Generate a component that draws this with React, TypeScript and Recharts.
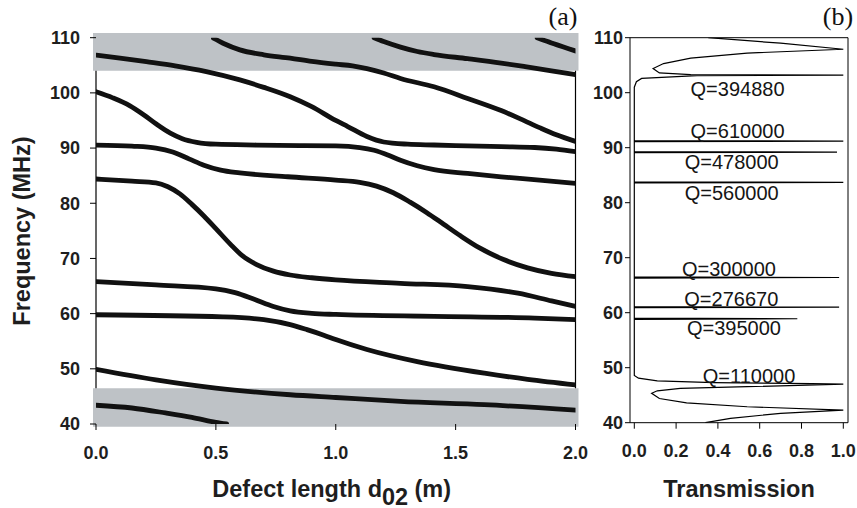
import React from 'react';
import { ScatterChart, Scatter, XAxis, YAxis, ReferenceArea, ReferenceLine } from 'recharts';

// ---------- Panel (a): eigen-frequency branches vs defect length ----------
const dTicks = [0, 0.5, 1.0, 1.5, 2.0];
const fTicks = [40, 50, 60, 70, 80, 90, 100, 110];

const branchA_d = [0, 0.1, 0.21, 0.33, 0.46, 0.6, 0.7, 0.81, 0.9, 1.0, 1.05, 1.13, 1.2, 1.3, 1.41, 1.55, 1.69, 1.83, 1.92, 2.0];
const branchA_f = [106.85, 106.3, 105.65, 104.9, 103.85, 102.35, 101.0, 99.3, 97.5, 95.0, 93.9, 92.1, 91.1, 90.7, 90.56, 90.4, 90.25, 90.1, 89.8, 89.35];

const branchB_d = [0.49, 0.53, 0.6, 0.7, 0.81, 0.9, 1.0, 1.07, 1.13, 1.2, 1.27, 1.41, 1.55, 1.69, 1.77, 1.85, 1.92, 2.0];
const branchB_f = [109.9, 109.0, 107.8, 106.9, 106.3, 105.7, 105.2, 104.9, 104.4, 103.6, 102.6, 101.1, 99.0, 96.8, 95.3, 93.7, 92.4, 91.2];

const branchC_d = [1.16, 1.2, 1.27, 1.34, 1.41, 1.55, 1.69, 1.79, 1.9, 2.0];
const branchC_f = [110.0, 109.3, 108.3, 107.5, 106.95, 106.2, 105.4, 104.75, 104.0, 103.3];

const branchD_d = [1.84, 1.91, 2.0];
const branchD_f = [110.0, 108.9, 107.6];

const branchE_d = [0, 0.07, 0.14, 0.2, 0.25, 0.31, 0.36, 0.42, 0.5, 0.67, 0.85, 1.0, 1.1, 1.16, 1.22, 1.27, 1.34, 1.41, 1.55, 1.69, 1.85, 2.0];
const branchE_f = [100.2, 99.1, 97.7, 96.0, 94.4, 92.7, 91.7, 91.05, 90.7, 90.55, 90.45, 90.4, 90.1, 89.6, 88.7, 87.8, 86.8, 86.1, 85.4, 84.8, 84.2, 83.6];

const branchF_d = [0, 0.15, 0.25, 0.32, 0.39, 0.45, 0.52, 0.6, 0.8, 1.0, 1.1, 1.17, 1.24, 1.31, 1.38, 1.45, 1.52, 1.6, 1.7, 1.8, 1.9, 2.0];
const branchF_f = [90.55, 90.35, 90.0, 89.3, 88.0, 86.9, 86.0, 85.5, 84.8, 84.2, 83.8, 83.1, 81.9, 80.2, 78.3, 76.2, 74.1, 71.9, 69.8, 68.3, 67.3, 66.7];

const branchG_d = [0, 0.15, 0.25, 0.3, 0.35, 0.4, 0.45, 0.5, 0.56, 0.61, 0.67, 0.74, 0.81, 0.9, 1.0, 1.27, 1.55, 1.76, 1.9, 2.0];
const branchG_f = [84.4, 84.0, 83.7, 83.0, 81.7, 79.8, 77.7, 75.4, 72.6, 70.5, 68.9, 67.7, 67.0, 66.5, 66.1, 65.5, 64.9, 63.7, 62.3, 61.3];

const branchH_d = [0, 0.25, 0.5, 0.58, 0.66, 0.74, 0.81, 0.9, 1.0, 1.41, 1.83, 2.0];
const branchH_f = [65.8, 65.2, 64.5, 63.8, 62.6, 61.3, 60.5, 60.05, 59.85, 59.5, 59.2, 58.9];

const branchI_d = [0, 0.53, 0.7, 0.81, 0.88, 0.95, 1.0, 1.13, 1.34, 1.62, 1.8, 2.0];
const branchI_f = [59.8, 59.4, 58.9, 58.0, 57.1, 56.1, 55.3, 53.5, 51.3, 49.2, 48.1, 47.1];

const branchJ_d = [0, 0.25, 0.5, 0.81, 1.0, 1.27, 1.62, 2.0];
const branchJ_f = [49.9, 48.0, 46.5, 45.3, 44.8, 44.1, 43.5, 42.5];

const branchK_d = [0, 0.15, 0.29, 0.4, 0.5, 0.545];
const branchK_f = [43.4, 42.9, 42.0, 41.2, 40.3, 40.0];

// band gaps (shaded)
const upperBand = [104, 110.85];
const lowerBand = [39.5, 46.5];

// ---------- Panel (b): transmission spectrum ----------
const tTicks = [0, 0.2, 0.4, 0.6, 0.8, 1.0];
const transT = [
  0.354, 0.7, 1.0, 0.54, 0.27, 0.14, 0.09, 0.12, 0.27, 1.0, 0.3, 0.035, 0.01, 0,
  0, 1.0, 0,
  0, 0.97, 0,
  0, 1.0, 0,
  0, 0.98, 0,
  0, 0.98, 0,
  0, 0.78, 0,
  0, 0.02, 0.11, 0.38, 0.85, 1.0, 0.54, 0.22, 0.11, 0.083, 0.12, 0.25, 0.54, 1.0, 0.7, 0.46, 0.34,
];
const transF = [
  110.0, 109.0, 107.9, 107.2, 106.3, 105.3, 104.4, 103.6, 103.3, 103.2, 103.1, 102.6, 102.0, 101.0,
  91.3, 91.2, 91.1,
  89.3, 89.2, 89.1,
  83.8, 83.7, 83.6,
  66.5, 66.4, 66.3,
  61.1, 61.0, 60.9,
  59.0, 58.9, 58.8,
  48.6, 48.1, 47.6, 47.3, 47.1, 47.0, 46.55, 46.25, 45.8, 45.35, 44.4, 43.6, 42.9, 42.3, 41.7, 40.8, 40.0,
];

const qText = ['Q=394880', 'Q=610000', 'Q=478000', 'Q=560000', 'Q=300000', 'Q=276670', 'Q=395000', 'Q=110000'];
const qT = [0.494, 0.494, 0.466, 0.466, 0.453, 0.464, 0.477, 0.549];
const qF = [100.8, 93.07, 87.45, 81.85, 67.98, 62.45, 57.3, 48.53];

// ---------- helpers ----------
const FONT = '"Liberation Sans", Arial, Helvetica, sans-serif';
const zip = (ds: number[], fs: number[]) => ds.map((d, i) => ({ d, f: fs[i] }));

const branches = [
  zip(branchA_d, branchA_f),
  zip(branchB_d, branchB_f),
  zip(branchC_d, branchC_f),
  zip(branchD_d, branchD_f),
  zip(branchE_d, branchE_f),
  zip(branchF_d, branchF_f),
  zip(branchG_d, branchG_f),
  zip(branchH_d, branchH_f),
  zip(branchI_d, branchI_f),
  zip(branchJ_d, branchJ_f),
  zip(branchK_d, branchK_f),
];

const transData = transT.map((t, i) => ({ t, f: transF[i] }));
const qData = qText.map((label, i) => ({ t: qT[i], f: qF[i], label }));

const tickStyle = { fontSize: 18, fontWeight: 700, fill: '#1e1e1e', fontFamily: FONT };
const noShape = () => <g />;

const QShape = (props: any) => (
  <text
    x={props.cx}
    y={props.cy}
    dy="0.36em"
    textAnchor="middle"
    fontFamily={FONT}
    fontSize={20}
    fill="#151515"
  >
    {props.payload.label}
  </text>
);

const titleProps = {
  fontFamily: FONT,
  fontWeight: 700,
  fontSize: 23.5,
  fill: '#1e1e1e',
};

export default function App() {
  return (
    <div style={{ position: 'absolute', left: 0, top: 0, width: 857, height: 508, background: '#fff' }}>
      <div style={{ position: 'absolute', left: 0, top: 0 }}>
        <ScatterChart width={600} height={508} margin={{ top: 37.7, right: 24.5, bottom: 54, left: 0 }}>
          <ReferenceArea
            x1={-0.0125}
            x2={2.0125}
            y1={upperBand[0]}
            y2={upperBand[1]}
            fill="#bec2c6"
            fillOpacity={1}
            stroke="none"
            ifOverflow="visible"
          />
          <ReferenceArea
            x1={-0.0125}
            x2={2.0125}
            y1={lowerBand[0]}
            y2={lowerBand[1]}
            fill="#bec2c6"
            fillOpacity={1}
            stroke="none"
            ifOverflow="visible"
          />
          <XAxis
            type="number"
            dataKey="d"
            domain={[0, 2]}
            ticks={dTicks}
            tickFormatter={(v: number) => v.toFixed(1)}
            axisLine={false}
            tickLine={{ stroke: '#000' }}
            tickSize={6}
            tickMargin={16}
            height={30}
            tick={tickStyle}
            allowDataOverflow
          />
          <YAxis
            type="number"
            dataKey="f"
            domain={[40, 110]}
            ticks={fTicks}
            axisLine={false}
            tickLine={{ stroke: '#000' }}
            tickSize={6}
            tickMargin={10}
            width={96}
            tick={tickStyle}
            allowDataOverflow
          />
          <ReferenceLine
            segment={[{ x: 0, y: lowerBand[1] }, { x: 0, y: upperBand[0] }]}
            stroke="#000"
            strokeWidth={1.2}
            ifOverflow="visible"
          />
          <ReferenceLine
            segment={[{ x: 2, y: lowerBand[1] }, { x: 2, y: upperBand[0] }]}
            stroke="#000"
            strokeWidth={1.2}
            ifOverflow="visible"
          />
          {branches.map((data, i) => (
            <Scatter
              key={i}
              data={data}
              line={{ stroke: '#111', strokeWidth: 4.8, strokeLinecap: 'round' }}
              lineType="joint"
              lineJointType="monotoneX"
              shape={noShape}
              isAnimationActive={false}
              legendType="none"
            />
          ))}
        </ScatterChart>
      </div>
      <div style={{ position: 'absolute', left: 580, top: 0 }}>
        <ScatterChart width={277} height={508} margin={{ top: 37.7, right: 9, bottom: 55.3, left: 0 }}>
          <XAxis
            type="number"
            dataKey="t"
            domain={[-0.0206, 1.0225]}
            ticks={tTicks}
            tickFormatter={(v: number) => v.toFixed(1)}
            axisLine={{ stroke: '#000' }}
            tickLine={{ stroke: '#000' }}
            tickSize={6}
            tickMargin={16}
            height={30}
            tick={tickStyle}
            allowDataOverflow
          />
          <YAxis
            type="number"
            dataKey="f"
            domain={[40, 110]}
            ticks={fTicks}
            axisLine={{ stroke: '#000' }}
            tickLine={{ stroke: '#000' }}
            tickSize={5}
            tickMargin={2}
            width={50}
            tick={tickStyle}
            allowDataOverflow
          />
          <ReferenceLine y={110} stroke="#000" strokeWidth={1} />
          <ReferenceLine x={1.0225} stroke="#000" strokeWidth={1} />
          <Scatter
            data={transData}
            line={{ stroke: '#000', strokeWidth: 1.2 }}
            lineType="joint"
            lineJointType="linear"
            shape={noShape}
            isAnimationActive={false}
            legendType="none"
          />
          <Scatter data={qData} shape={QShape} isAnimationActive={false} legendType="none" />
        </ScatterChart>
      </div>
      <svg
        width={857}
        height={508}
        style={{ position: 'absolute', left: 0, top: 0, pointerEvents: 'none' }}
      >
        <text transform="translate(30,231) rotate(-90)" textAnchor="middle" {...titleProps}>
          Frequency (MHz)
        </text>
        <text x={382} y={496.7} textAnchor="end" {...titleProps}>
          Defect length d
        </text>
        <text x={382} y={504.5} textAnchor="start" {...titleProps}>
          02
        </text>
        <text x={414.5} y={496.7} textAnchor="start" {...titleProps}>
          (m)
        </text>
        <text x={739} y={496.7} textAnchor="middle" {...titleProps}>
          Transmission
        </text>
        <text x={563} y={25} textAnchor="middle" fontFamily='"Liberation Serif", "Times New Roman", serif' fontSize={26} fill="#111">
          (a)
        </text>
        <text x={838} y={25} textAnchor="middle" fontFamily='"Liberation Serif", "Times New Roman", serif' fontSize={26} fill="#111">
          (b)
        </text>
      </svg>
    </div>
  );
}
